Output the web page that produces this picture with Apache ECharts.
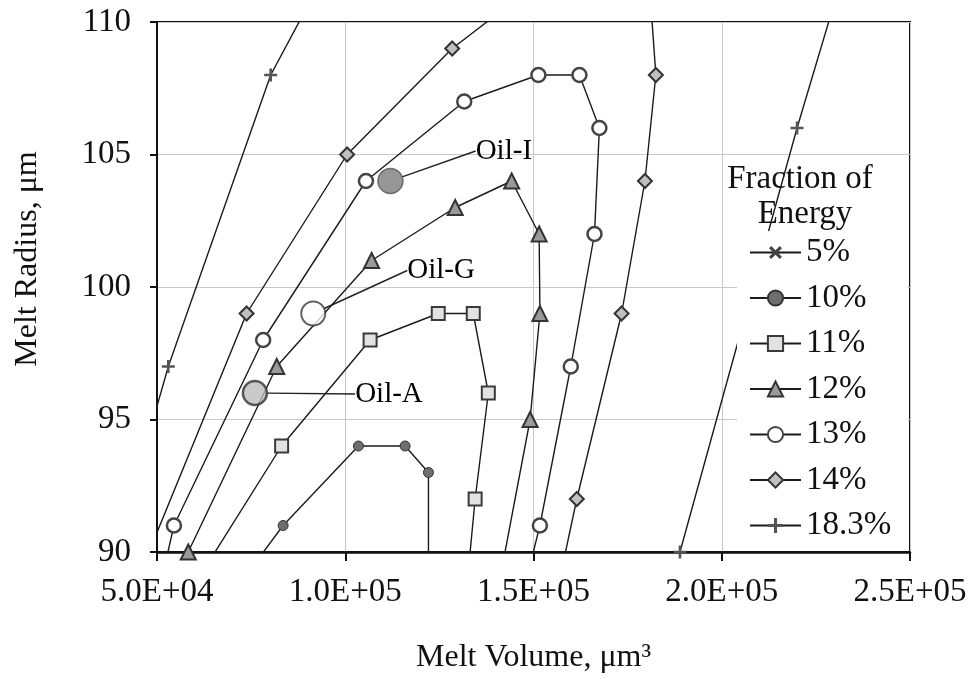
<!DOCTYPE html>
<html>
<head>
<meta charset="utf-8">
<script src="https://cdn.jsdelivr.net/npm/echarts/dist/echarts.min.js"></script>
<style>
  html, body { margin: 0; padding: 0; background: #fff; }
  #chart { width: 975px; height: 679px; }
</style>
</head>
<body>
<div id="chart"></div>
<script>
// Melt radius (µm) against melt volume (µm³), one contour per fraction of energy.
// Points just outside the axis range let the curves run on to the plot edges.
const seriesNames = ['5%', '10%', '11%', '12%', '13%', '14%', '18.3%'];

const frac5 = [];
const frac10 = [[73000, 89], [83500, 91], [103500, 94], [115900, 94], [122100, 93], [122100, 89]];
const frac11 = [[61000, 89], [83100, 94], [106600, 98], [124700, 99], [134000, 99], [138000, 96], [134500, 92], [132500, 89]];
const frac12 = [[58300, 90], [81800, 97], [107000, 101], [129200, 103], [144200, 104], [151500, 102], [151700, 99], [149100, 95], [141100, 89]];
const frac13 = [[51300, 89], [54500, 91], [78200, 98], [105500, 104], [131600, 107], [151300, 108], [162200, 108], [167500, 106], [166200, 102], [159900, 97], [151700, 91], [148200, 89]];
const frac14 = [[45000, 89], [73800, 99], [100500, 105], [128400, 109], [146800, 111], [181000, 111], [182500, 108], [179600, 104], [173400, 99], [161500, 92], [157000, 89]];
const frac183 = [[47000, 94], [53000, 97], [80200, 108], [91500, 111], [230500, 111], [220000, 106], [188900, 90]];

// Measured oils
const oilNames = ['Oil-I', 'Oil-G', 'Oil-A'];
const oilVolume = [112000, 91500, 76000];
const oilRadius = [104, 99, 96];

const xTicks = { min: 50000, max: 250000, step: 50000 };
const yTicks = { min: 90, max: 110, step: 5 };

const FONT = 'Liberation Serif';
const plusPath = 'path://M4,0H6V4H10V6H6V10H4V6H0V4H4Z';

const markerStyles = {
  '5%':    { symbol: plusPath, symbolSize: 14, symbolRotate: 45, itemStyle: { color: '#444' } },
  '10%':   { symbol: 'circle', symbolSize: 10, itemStyle: { color: '#6e6e6e', borderColor: '#333', borderWidth: 1 } },
  '11%':   { symbol: 'rect', symbolSize: 13, itemStyle: { color: '#e2e2e2', borderColor: '#3a3a3a', borderWidth: 2 } },
  '12%':   { symbol: 'triangle', symbolSize: 15, itemStyle: { color: '#9a9a9a', borderColor: '#333', borderWidth: 2 } },
  '13%':   { symbol: 'circle', symbolSize: 14, itemStyle: { color: '#fff', borderColor: '#444', borderWidth: 2.5 } },
  '14%':   { symbol: 'diamond', symbolSize: 14, itemStyle: { color: '#c0c0c0', borderColor: '#333', borderWidth: 2 } },
  '18.3%': { symbol: plusPath, symbolSize: 13, itemStyle: { color: '#555' } }
};
const seriesData = [frac5, frac10, frac11, frac12, frac13, frac14, frac183];

const oilStyles = [
  { color: '#7c7c7c', borderColor: '#555', borderWidth: 1.5, size: 25 },
  { color: '#ffffff', borderColor: '#3a3a3a', borderWidth: 2, size: 24 },
  { color: '#bdbdbd', borderColor: '#333', borderWidth: 2.5, size: 24 }
];
const oilLabelShift = [[72, -30], [81, -43], [87, 1]];

function sciLabel(v) {
  const e = Math.floor(Math.log10(v) + 1e-9);
  const m = v / Math.pow(10, e);
  return m.toFixed(1) + 'E+' + String(e).padStart(2, '0');
}

const chart = echarts.init(document.getElementById('chart'), null, { renderer: 'canvas' });

const lineSeries = seriesNames.map((name, i) => Object.assign({
  name: name,
  type: 'line',
  data: seriesData[i],
  clip: true,
  z: 3,
  lineStyle: { color: '#1b1b1b', width: 1.4 },
  showAllSymbol: true,
  animation: false
}, markerStyles[name]));

const oilSeries = {
  type: 'scatter',
  name: 'oils',
  z: 5,
  data: oilNames.map((n, i) => ({
    name: n,
    value: [oilVolume[i], oilRadius[i]],
    symbolSize: oilStyles[i].size,
    itemStyle: { color: oilStyles[i].color, borderColor: oilStyles[i].borderColor, borderWidth: oilStyles[i].borderWidth }
  })),
  label: {
    show: true,
    position: 'right',
    distance: 0,
    formatter: p => p.name,
    fontFamily: FONT,
    fontSize: 29,
    color: '#000',
    opacity: 1
  },
  labelLine: { show: true, lineStyle: { color: '#222', width: 1.4 } },
  labelLayout: p => ({ dx: oilLabelShift[p.dataIndex][0], dy: oilLabelShift[p.dataIndex][1] }),
  animation: false
};

chart.setOption({
  animation: false,
  backgroundColor: '#fff',
  grid: { left: 157, right: 65, top: 22, bottom: 127, show: true, borderColor: '#111', borderWidth: 2 },
  xAxis: {
    type: 'value',
    min: xTicks.min, max: xTicks.max, interval: xTicks.step,
    name: 'Melt Volume, μm³',
    nameLocation: 'middle',
    nameGap: 90,
    nameTextStyle: { fontFamily: FONT, fontSize: 32, color: '#111' },
    axisLine: { show: true, lineStyle: { color: '#111', width: 2.5 } },
    axisTick: { show: true, inside: false, length: 9, lineStyle: { color: '#111', width: 2 } },
    axisLabel: { formatter: sciLabel, margin: 24, fontFamily: FONT, fontSize: 33, color: '#111' },
    splitLine: { show: true, lineStyle: { color: '#c8c8c8', width: 1 } }
  },
  yAxis: {
    type: 'value',
    min: yTicks.min, max: yTicks.max, interval: yTicks.step,
    axisLine: { show: true, lineStyle: { color: '#111', width: 2 } },
    axisTick: { show: true, inside: false, length: 7, lineStyle: { color: '#111', width: 2 } },
    axisLabel: { margin: 26, fontFamily: FONT, fontSize: 33, color: '#111' },
    splitLine: { show: true, lineStyle: { color: '#c8c8c8', width: 1 } }
  },
  legend: {
    data: seriesNames,
    orient: 'vertical',
    left: 737,
    top: 231,
    padding: [5, 16, 6, 12],
    backgroundColor: '#fff',
    itemWidth: 51,
    itemHeight: 19,
    itemGap: 12.5,
    z: 4,
    selectedMode: false,
    textStyle: { fontFamily: FONT, fontSize: 33, color: '#111', lineHeight: 33 }
  },
  graphic: [
    {
      type: 'text', x: 28, y: 259, rotation: Math.PI / 2, z: 10,
      style: { text: 'Melt Radius, μm', font: '32px "' + FONT + '"', fill: '#111', textAlign: 'center', textVerticalAlign: 'middle' }
    },
    {
      type: 'text', x: 800, y: 179, z: 2,
      style: { text: 'Fraction of', font: '33px "' + FONT + '"', fill: '#111', textAlign: 'center', textVerticalAlign: 'middle' }
    },
    {
      type: 'text', x: 805, y: 214, z: 2,
      style: { text: 'Energy', font: '33px "' + FONT + '"', fill: '#111', textAlign: 'center', textVerticalAlign: 'middle' }
    }
  ],
  series: lineSeries.concat([oilSeries])
});
</script>
</body>
</html>
